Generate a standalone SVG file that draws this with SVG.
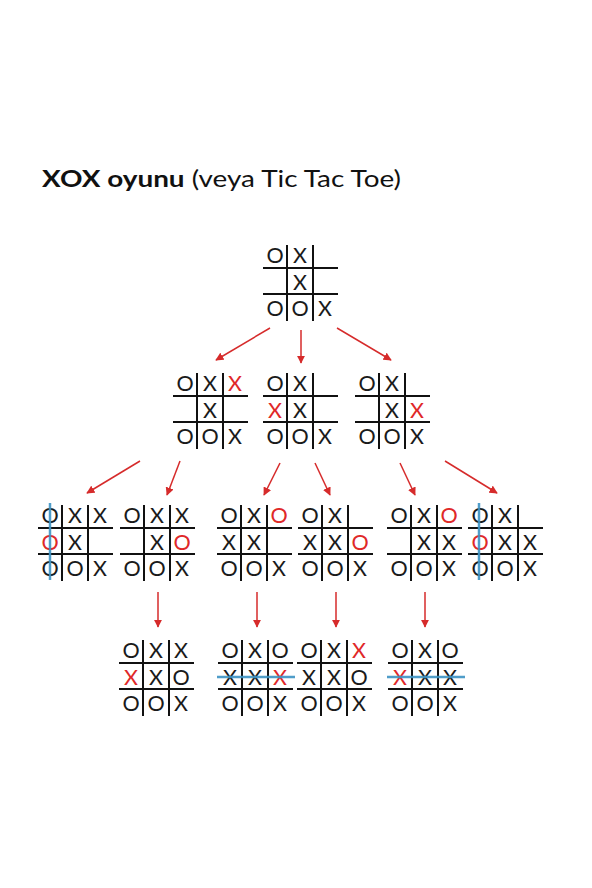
<svg xmlns="http://www.w3.org/2000/svg" width="592" height="888" viewBox="0 0 592 888">
<style>
.g{stroke:#111;stroke-width:2;fill:none}
.t{font-family:Lato,"Liberation Sans",sans-serif;font-size:21.5px;fill:#1a1a1a;text-anchor:middle}
.r{fill:#e02828}
.blue{stroke:#3d93c4;stroke-width:2.5;opacity:0.9}
.a{stroke:#d62b2b;stroke-width:1.5;fill:none;marker-end:url(#ah)}
.title{font-family:Lato,"Liberation Sans",sans-serif;font-size:22.5px;fill:#111}
</style>
<defs>
<marker id="ah" viewBox="0 0 10 10" refX="9" refY="5" markerWidth="5.5" markerHeight="5.5" orient="auto" markerUnits="strokeWidth">
<path d="M0,0 L10,5 L0,10 z" fill="#d62b2b"/>
</marker>
<g id="grid">
<line class="g" x1="0" y1="25" x2="75" y2="25"/>
<line class="g" x1="0" y1="51" x2="75" y2="51"/>
<line class="g" x1="24" y1="2" x2="24" y2="78"/>
<line class="g" x1="50" y1="2" x2="50" y2="78"/>
</g>
</defs>
<rect width="592" height="888" fill="#fff"/>
<text class="title" transform="translate(42,187) scale(1.24,1)"><tspan font-weight="bold">XOX oyunu</tspan> (veya Tic Tac Toe)</text>

<g id="connectors">
<line class="a" x1="270" y1="328" x2="216" y2="360"/>
<line class="a" x1="301" y1="330" x2="301" y2="363"/>
<line class="a" x1="337" y1="328" x2="391" y2="360"/>
<line class="a" x1="140" y1="461" x2="87" y2="493"/>
<line class="a" x1="180" y1="461" x2="167" y2="495"/>
<line class="a" x1="280" y1="463" x2="264" y2="495"/>
<line class="a" x1="315" y1="463" x2="330" y2="495"/>
<line class="a" x1="400" y1="463" x2="415" y2="495"/>
<line class="a" x1="445" y1="461" x2="497" y2="493"/>
<line class="a" x1="158" y1="592" x2="158" y2="627"/>
<line class="a" x1="257" y1="592" x2="257" y2="627"/>
<line class="a" x1="336" y1="592" x2="336" y2="627"/>
<line class="a" x1="425" y1="592" x2="425" y2="627"/>
</g>

<g id="root" transform="translate(263,243)">
<use href="#grid"/>
<text class="t" x="12" y="20">O</text><text class="t" x="37" y="20">X</text>
<text class="t" x="37" y="46.5">X</text>
<text class="t" x="12" y="73">O</text><text class="t" x="37" y="73">O</text><text class="t" x="62" y="73">X</text>
</g>

<g id="l2a" transform="translate(173,371)">
<use href="#grid"/>
<text class="t" x="12" y="20">O</text><text class="t" x="37" y="20">X</text><text class="t r" x="62" y="20">X</text>
<text class="t" x="37" y="46.5">X</text>
<text class="t" x="12" y="73">O</text><text class="t" x="37" y="73">O</text><text class="t" x="62" y="73">X</text>
</g>
<g id="l2b" transform="translate(263,371)">
<use href="#grid"/>
<text class="t" x="12" y="20">O</text><text class="t" x="37" y="20">X</text>
<text class="t r" x="12" y="46.5">X</text><text class="t" x="37" y="46.5">X</text>
<text class="t" x="12" y="73">O</text><text class="t" x="37" y="73">O</text><text class="t" x="62" y="73">X</text>
</g>
<g id="l2c" transform="translate(355,371)">
<use href="#grid"/>
<text class="t" x="12" y="20">O</text><text class="t" x="37" y="20">X</text>
<text class="t" x="37" y="46.5">X</text><text class="t r" x="62" y="46.5">X</text>
<text class="t" x="12" y="73">O</text><text class="t" x="37" y="73">O</text><text class="t" x="62" y="73">X</text>
</g>

<g id="l3a" transform="translate(38,503)">
<use href="#grid"/>
<text class="t" x="12" y="20">O</text><text class="t" x="37" y="20">X</text><text class="t" x="62" y="20">X</text>
<text class="t r" x="12" y="46.5">O</text><text class="t" x="37" y="46.5">X</text>
<text class="t" x="12" y="73">O</text><text class="t" x="37" y="73">O</text><text class="t" x="62" y="73">X</text>
<line class="blue" x1="12" y1="0" x2="12" y2="77"/>
</g>
<g id="l3b" transform="translate(120,503)">
<use href="#grid"/>
<text class="t" x="12" y="20">O</text><text class="t" x="37" y="20">X</text><text class="t" x="62" y="20">X</text>
<text class="t" x="37" y="46.5">X</text><text class="t r" x="62" y="46.5">O</text>
<text class="t" x="12" y="73">O</text><text class="t" x="37" y="73">O</text><text class="t" x="62" y="73">X</text>
</g>
<g id="l3c" transform="translate(217,503)">
<use href="#grid"/>
<text class="t" x="12" y="20">O</text><text class="t" x="37" y="20">X</text><text class="t r" x="62" y="20">O</text>
<text class="t" x="12" y="46.5">X</text><text class="t" x="37" y="46.5">X</text>
<text class="t" x="12" y="73">O</text><text class="t" x="37" y="73">O</text><text class="t" x="62" y="73">X</text>
</g>
<g id="l3d" transform="translate(298,503)">
<use href="#grid"/>
<text class="t" x="12" y="20">O</text><text class="t" x="37" y="20">X</text>
<text class="t" x="12" y="46.5">X</text><text class="t" x="37" y="46.5">X</text><text class="t r" x="62" y="46.5">O</text>
<text class="t" x="12" y="73">O</text><text class="t" x="37" y="73">O</text><text class="t" x="62" y="73">X</text>
</g>
<g id="l3e" transform="translate(387,503)">
<use href="#grid"/>
<text class="t" x="12" y="20">O</text><text class="t" x="37" y="20">X</text><text class="t r" x="62" y="20">O</text>
<text class="t" x="37" y="46.5">X</text><text class="t" x="62" y="46.5">X</text>
<text class="t" x="12" y="73">O</text><text class="t" x="37" y="73">O</text><text class="t" x="62" y="73">X</text>
</g>
<g id="l3f" transform="translate(468,503)">
<use href="#grid"/>
<text class="t" x="12" y="20">O</text><text class="t" x="37" y="20">X</text>
<text class="t r" x="12" y="46.5">O</text><text class="t" x="37" y="46.5">X</text><text class="t" x="62" y="46.5">X</text>
<text class="t" x="12" y="73">O</text><text class="t" x="37" y="73">O</text><text class="t" x="62" y="73">X</text>
<line class="blue" x1="11" y1="0" x2="11" y2="77"/>
</g>

<g id="l4a" transform="translate(119,638)">
<use href="#grid"/>
<text class="t" x="12" y="20">O</text><text class="t" x="37" y="20">X</text><text class="t" x="62" y="20">X</text>
<text class="t r" x="12" y="46.5">X</text><text class="t" x="37" y="46.5">X</text><text class="t" x="62" y="46.5">O</text>
<text class="t" x="12" y="73">O</text><text class="t" x="37" y="73">O</text><text class="t" x="62" y="73">X</text>
</g>
<g id="l4b" transform="translate(218,638)">
<use href="#grid"/>
<text class="t" x="12" y="20">O</text><text class="t" x="37" y="20">X</text><text class="t" x="62" y="20">O</text>
<text class="t" x="12" y="46.5">X</text><text class="t" x="37" y="46.5">X</text><text class="t r" x="62" y="46.5">X</text>
<text class="t" x="12" y="73">O</text><text class="t" x="37" y="73">O</text><text class="t" x="62" y="73">X</text>
<line class="blue" x1="-1" y1="39" x2="77" y2="39"/>
</g>
<g id="l4c" transform="translate(297,638)">
<use href="#grid"/>
<text class="t" x="12" y="20">O</text><text class="t" x="37" y="20">X</text><text class="t r" x="62" y="20">X</text>
<text class="t" x="12" y="46.5">X</text><text class="t" x="37" y="46.5">X</text><text class="t" x="62" y="46.5">O</text>
<text class="t" x="12" y="73">O</text><text class="t" x="37" y="73">O</text><text class="t" x="62" y="73">X</text>
</g>
<g id="l4d" transform="translate(388,638)">
<use href="#grid"/>
<text class="t" x="12" y="20">O</text><text class="t" x="37" y="20">X</text><text class="t" x="62" y="20">O</text>
<text class="t r" x="12" y="46.5">X</text><text class="t" x="37" y="46.5">X</text><text class="t" x="62" y="46.5">X</text>
<text class="t" x="12" y="73">O</text><text class="t" x="37" y="73">O</text><text class="t" x="62" y="73">X</text>
<line class="blue" x1="-1" y1="39" x2="77" y2="39"/>
</g>
</svg>
